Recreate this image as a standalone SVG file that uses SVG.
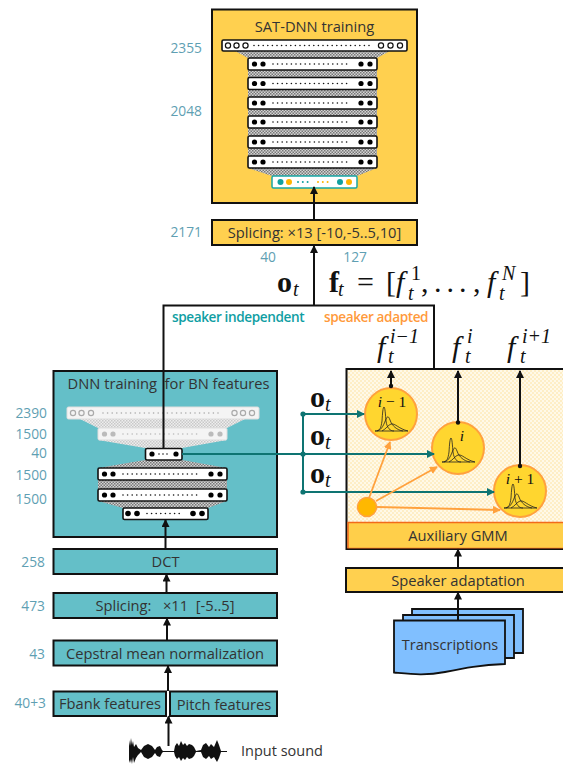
<svg xmlns="http://www.w3.org/2000/svg" width="563" height="765" viewBox="0 0 563 765">
<style>
text{font-family:"Open Sans","Noto Sans","Liberation Sans",sans-serif;fill:#333}
.t{font-size:14.7px;text-anchor:middle}
.n{font-size:13.800px;fill:#5f9fb3;text-anchor:end}
.m{font-family:"Liberation Serif","DejaVu Serif",serif;fill:#111;font-size:30px}
.b{font-weight:bold}
.i{font-style:italic}
.s{font-size:20px}
.c{font-size:15.500px;text-anchor:middle}
.box{stroke:#111;stroke-width:2}
.teal{fill:#64bfc8}
.yel{fill:#ffd04f}
.w{fill:none;stroke:#111;stroke-width:2}
.k{fill:none;stroke:#111;stroke-width:2;marker-end:url(#ak)}
.tl{fill:none;stroke:#0e7472;stroke-width:2}
.ta{marker-end:url(#at)}
.or{fill:none;stroke:#ffa13d;stroke-width:1.800;marker-end:url(#ao)}
.g{fill:#ffd62f;stroke:#ffa13d;stroke-width:2}
.cv{fill:none;stroke:#222;stroke-width:.8}
.lay{fill:#fff;stroke:#111;stroke-width:1.600}
.doc{fill:#80bfff;stroke:#111;stroke-width:1.800}
</style>
<defs>
<pattern id="h" width="3" height="3" patternUnits="userSpaceOnUse"><rect width="3" height="3" fill="#d4d4d4"/><rect width="1.500" height="1.500" fill="#777"/><rect x="1.500" y="1.500" width="1.500" height="1.500" fill="#777"/></pattern>
<pattern id="hf" width="3" height="3" patternUnits="userSpaceOnUse"><rect width="3" height="3" fill="#eee"/><rect width="1.500" height="1.500" fill="#c8c8c8"/><rect x="1.500" y="1.500" width="1.500" height="1.500" fill="#c8c8c8"/></pattern>
<pattern id="dots" width="4" height="4" patternUnits="userSpaceOnUse"><rect width="4" height="4" fill="#fff9e8"/><rect width="2" height="2" fill="#feeec6"/><rect x="2" y="2" width="2" height="2" fill="#feeec6"/></pattern>
<marker id="ak" markerUnits="userSpaceOnUse" markerWidth="9" markerHeight="8" refX="7" refY="4" orient="auto"><path d="M0 0L8 4L0 8Z" fill="#111"/></marker>
<marker id="at" markerUnits="userSpaceOnUse" markerWidth="9" markerHeight="8" refX="7" refY="4" orient="auto"><path d="M0 0L8 4L0 8Z" fill="#0e7472"/></marker>
<marker id="ao" markerUnits="userSpaceOnUse" markerWidth="9" markerHeight="8" refX="7" refY="4" orient="auto"><path d="M0 0L8 4L0 8Z" fill="#ffa13d"/></marker>
<g id="dense">
<rect class="lay" x="0" y="0" width="129" height="12" rx="1.500"/>
<circle cx="6.500" cy="6" r="2.600"/><circle cx="15" cy="6" r="2.600"/><circle cx="113" cy="6" r="2.600"/><circle cx="122" cy="6" r="2.600"/>
<line x1="25" y1="6" x2="103" y2="6" stroke="#111" stroke-width="1.600" stroke-linecap="round" stroke-dasharray="0 4.600"/>
</g>
<g id="curves">
<path class="cv" d="M-16 0C-11 0-10 -3-9 -10C-8.500 -18-8 -24-7 -24C-6 -24-5.500 -16-5 -10C-4 -3-1 0 3 0"/>
<path class="cv" d="M-14 0C-9 -1-7 -7-5 -12C-3.500 -15-2.500 -15-1 -11C1 -5 6 -1 12 0"/>
<path class="cv" d="M-9 0C-5 -2-3 -6 0 -7C4 -8 8 -2 17 0"/>
<line class="cv" x1="-16" y1="0" x2="17" y2="0"/>
</g>
</defs>

<g id="sat-dnn">
<rect class="box yel" x="212" y="9.500" width="205" height="193.500"/>
<text class="t" x="314.500" y="31.500">SAT-DNN training</text>
<path d="M235 51H390L377 58H248ZM248 70H377V156H248ZM248 168H377L357 176H272Z" fill="url(#h)"/>
<rect class="lay" x="222" y="40" width="185" height="11" rx="1.500"/>
<g fill="#fff" stroke="#111" stroke-width="1.200"><circle cx="228" cy="45.500" r="2.600"/><circle cx="236.500" cy="45.500" r="2.600"/><circle cx="245.500" cy="45.500" r="2.600"/><circle cx="381" cy="45.500" r="2.600"/><circle cx="390.500" cy="45.500" r="2.600"/><circle cx="400" cy="45.500" r="2.600"/></g>
<line x1="254" y1="45.500" x2="372" y2="45.500" stroke="#111" stroke-width="1.600" stroke-linecap="round" stroke-dasharray="0 4.600"/>
<use href="#dense" x="248" y="58"/><use href="#dense" x="248" y="77.500"/><use href="#dense" x="248" y="97"/><use href="#dense" x="248" y="116"/><use href="#dense" x="248" y="136"/><use href="#dense" x="248" y="156"/>
<rect x="272" y="176" width="85" height="12" rx="1.500" fill="#fff" stroke="#19a7a5" stroke-width="1.500"/>
<circle cx="280.500" cy="182" r="3" fill="#11a0a0"/><circle cx="289" cy="182" r="3" fill="#ffb400"/><circle cx="340" cy="182" r="3" fill="#11a0a0"/><circle cx="349" cy="182" r="3" fill="#ffb400"/>
<line x1="298" y1="182" x2="312" y2="182" stroke="#11a0a0" stroke-width="2" stroke-linecap="round" stroke-dasharray="0 4.800"/>
<line x1="318" y1="182" x2="332" y2="182" stroke="#ffb400" stroke-width="2" stroke-linecap="round" stroke-dasharray="0 4.800"/>
</g>

<g id="splicing-13"><rect class="box yel" x="212" y="220" width="205" height="25"/><text class="t" x="314.500" y="238">Splicing: ×13 [-10,-5..5,10]</text></g>

<g id="dnn-bn">
<rect class="box teal" x="53.500" y="371" width="223.500" height="166"/>
<text class="t" x="168.500" y="389" xml:space="preserve">DNN training  for BN features</text>
<path d="M80 419H245L227 428H98ZM98 440H227L182 448H145Z" fill="url(#hf)"/>
<path d="M145 460H182L227 468H98ZM98 480H227V489H98ZM98 501H227L208 508H123Z" fill="url(#h)"/>
<rect x="67" y="407" width="192" height="12" rx="1.500" fill="#f4f4f4" stroke="#ddd"/>
<g fill="none" stroke="#aaa" stroke-width="1.200"><circle cx="73" cy="413" r="2.600"/><circle cx="81.500" cy="413" r="2.600"/><circle cx="91" cy="413" r="2.600"/><circle cx="234.500" cy="413" r="2.600"/><circle cx="243" cy="413" r="2.600"/><circle cx="252" cy="413" r="2.600"/></g>
<line x1="103" y1="413" x2="222" y2="413" stroke="#aaa" stroke-width="1.600" stroke-linecap="round" stroke-dasharray="0 4.600"/>
<rect x="98" y="428" width="129" height="12" rx="1.500" fill="#f4f4f4" stroke="#ddd"/>
<g fill="#bbb"><circle cx="104.500" cy="434" r="2.600"/><circle cx="113" cy="434" r="2.600"/><circle cx="211" cy="434" r="2.600"/><circle cx="220" cy="434" r="2.600"/></g>
<line x1="123" y1="434" x2="201" y2="434" stroke="#bbb" stroke-width="1.600" stroke-linecap="round" stroke-dasharray="0 4.600"/>
<rect class="lay" x="145.500" y="448.500" width="36.500" height="11.500" rx="1.500"/>
<circle cx="152" cy="454" r="2.600"/><circle cx="176" cy="454" r="2.600"/>
<line x1="159" y1="454" x2="169" y2="454" stroke="#111" stroke-width="1.600" stroke-linecap="round" stroke-dasharray="0 4"/>
<use href="#dense" x="98" y="468"/><use href="#dense" x="98" y="489"/>
<rect class="lay" x="123" y="508" width="85" height="11.500" rx="1.500"/>
<circle cx="128" cy="513.500" r="2.800"/><circle cx="137" cy="513.500" r="2.800"/><circle cx="193" cy="513.500" r="2.800"/><circle cx="202" cy="513.500" r="2.800"/>
<line x1="147" y1="513.500" x2="182" y2="513.500" stroke="#111" stroke-width="1.600" stroke-linecap="round" stroke-dasharray="0 4.600"/>
</g>

<g id="dct"><rect class="box teal" x="53.500" y="549" width="223.500" height="25"/><text class="t" x="165.500" y="567">DCT</text></g>
<g id="splicing-11"><rect class="box teal" x="53.500" y="593" width="223.500" height="25"/><text class="t" x="165" y="611" xml:space="preserve">Splicing:   ×11  [-5..5]</text></g>
<g id="cmn"><rect class="box teal" x="53.500" y="640.500" width="223.500" height="25"/><text class="t" x="165" y="659">Cepstral mean normalization</text></g>
<g id="fbank"><rect class="box teal" x="53.500" y="691.500" width="112.500" height="24.500"/><text class="t" x="110" y="709">Fbank features</text></g>
<g id="pitch"><rect class="box teal" x="170" y="691.500" width="107" height="24.500"/><text class="t" x="224" y="710">Pitch features</text></g>
<g id="sound">
<path d="M129 740L130 746L131 738L132 745L133 741L134 747L136 744L138 748L141 750L144 746L148 744L152 746L155 750L157 747L160 746L162 750L163 751L174 751L175 746L177 743L179 746L181 741L183 745L185 743L187 746L189 744L192 745L194 747L196 751L201 750L203 745L206 743L209 747L211 744L214 747L217 740L219 745L221 751L227 751L227 752L221 752L219 758L217 762L214 757L211 759L209 756L206 759L203 757L201 752L196 752L194 756L192 758L189 759L187 757L185 760L183 758L181 761L179 757L177 759L175 756L174 752L163 752L162 753L160 757L157 756L155 753L152 757L148 759L144 757L141 752L138 755L136 758L134 763L133 757L132 764L131 759L130 763L129 760Z" fill="#111"/>
<text x="241" y="756" style="font-size:14.500px">Input sound</text>
</g>

<g id="sa-box"><rect class="box" x="346.500" y="369" width="220" height="180" fill="url(#dots)"/></g>
<g id="aux-gmm"><rect x="348" y="522.500" width="218" height="26" fill="#ffcf4a" stroke="#f26a1b" stroke-width="1.500"/><text class="t" x="458" y="541">Auxiliary GMM</text></g>
<rect x="346" y="548.500" width="220" height="1.500" fill="#111"/>
<g id="speaker-adaptation"><rect class="box yel" x="346" y="568" width="220" height="24"/><text class="t" x="458" y="586">Speaker adaptation</text></g>
<g id="transcriptions">
<path class="doc" d="M412 609H523V653H412Z"/>
<path class="doc" d="M403 615H514V658H403Z"/>
<path class="doc" d="M394 620.500H505V664C480 665 465 668 445 672C425 676 410 674 394 672.500Z"/>
<text x="450" y="650" style="font-size:14.500px;text-anchor:middle">Transcriptions</text>
</g>

<g id="gauss-1"><circle class="g" cx="391" cy="414" r="26"/><use href="#curves" x="391" y="431"/><text class="m c" x="392" y="407"><tspan class="i">i</tspan> − 1</text></g>
<g id="gauss-2"><circle class="g" cx="458" cy="448" r="26"/><use href="#curves" x="458" y="462"/><text class="m c i" x="462" y="441">i</text></g>
<g id="gauss-3"><circle class="g" cx="520" cy="491" r="26"/><use href="#curves" x="520" y="508"/><text class="m c" x="520" y="484"><tspan class="i">i</tspan> + 1</text></g>
<g id="aux-node"><circle cx="367" cy="507" r="9.500" fill="#ffb800" stroke="#ffa13d" stroke-width="1.500"/></g>

<g id="connectors">
<path class="w" d="M163.500 449V305.500H434V369"/>
<path class="k" d="M314 305V246"/>
<path class="k" d="M314 220V187"/>
<path class="k" d="M165.500 549V520"/>
<path class="k" d="M166.500 593V574.500"/>
<path class="k" d="M167 640V618.500"/>
<path class="k" d="M168 691V666"/>
<path class="k" d="M168.500 746V716.500"/>
<path class="k" d="M458 568V549.500"/>
<path class="k" d="M458 620V592.500"/>
<path class="k" d="M391 386V371"/>
<path class="k" d="M458 422V371"/>
<path class="k" d="M520 466V371"/>
<circle cx="391" cy="386" r="2.200" fill="#111"/><circle cx="458" cy="422.500" r="2.200" fill="#111"/><circle cx="520" cy="466" r="2.200" fill="#111"/>
<path class="tl" d="M182 454H303"/>
<path class="tl ta" d="M303 454H434"/>
<path class="tl ta" d="M303 414H364"/>
<path class="tl ta" d="M303 492H494"/>
<path class="tl" d="M303 414V492"/>
<circle cx="303" cy="414" r="2.600" fill="#0e7472"/><circle cx="303" cy="454" r="2.600" fill="#0e7472"/><circle cx="303" cy="492" r="2.600" fill="#0e7472"/>
<path class="or" d="M369 498L390 442"/>
<path class="or" d="M376 501L437 467"/>
<path class="or" d="M377 507L500 510"/>
</g>

<g id="labels">
<text class="n" x="202" y="53">2355</text>
<text class="n" x="202" y="116">2048</text>
<text class="n" x="202" y="237">2171</text>
<text class="n" x="276" y="262">40</text>
<text class="n" x="367" y="262">127</text>
<text class="n" x="47" y="418">2390</text>
<text class="n" x="47" y="439">1500</text>
<text class="n" x="47" y="458">40</text>
<text class="n" x="47" y="480">1500</text>
<text class="n" x="47" y="504">1500</text>
<text class="n" x="45" y="567">258</text>
<text class="n" x="45" y="611">473</text>
<text class="n" x="45" y="659">43</text>
<text class="n" x="46" y="708">40+3</text>
<text x="172" y="322" style="font-size:13.600px;font-weight:600;fill:#0f9ea3;letter-spacing:-.4px">speaker independent</text>
<text x="324" y="322" style="font-size:13.600px;font-weight:600;fill:#ff9a3c;letter-spacing:-.4px">speaker adapted</text>
<text class="m" x="277" y="292"><tspan class="b">o</tspan><tspan class="i s" x="293" y="296">t</tspan></text>
<text class="m" x="329" y="292"><tspan class="b">f</tspan><tspan class="i s" x="338" y="296">t</tspan><tspan x="357" y="292">=</tspan><tspan x="386" y="292">[</tspan><tspan class="i" x="396" y="292">f</tspan><tspan class="s" x="411" y="280">1</tspan><tspan class="i s" x="408" y="300">t</tspan><tspan x="421" y="292">,</tspan><tspan x="434" y="292" letter-spacing="5">...</tspan><tspan x="473" y="292">,</tspan><tspan class="i" x="487" y="292">f</tspan><tspan class="i s" x="502" y="280">N</tspan><tspan class="i s" x="499" y="300">t</tspan><tspan x="520" y="292">]</tspan></text>
<text class="m i" x="377" y="357">f<tspan class="s" x="390" y="343">i−1</tspan><tspan class="s" x="388" y="363">t</tspan></text>
<text class="m i" x="452" y="357">f<tspan class="s" x="467" y="343">i</tspan><tspan class="s" x="465" y="363">t</tspan></text>
<text class="m i" x="507" y="357">f<tspan class="s" x="522" y="343">i+1</tspan><tspan class="s" x="520" y="363">t</tspan></text>
<text class="m" x="310" y="407"><tspan class="b">o</tspan><tspan class="i s" x="325" y="411">t</tspan></text>
<text class="m" x="310" y="445"><tspan class="b">o</tspan><tspan class="i s" x="325" y="449">t</tspan></text>
<text class="m" x="310" y="483"><tspan class="b">o</tspan><tspan class="i s" x="325" y="487">t</tspan></text>
</g>
</svg>
